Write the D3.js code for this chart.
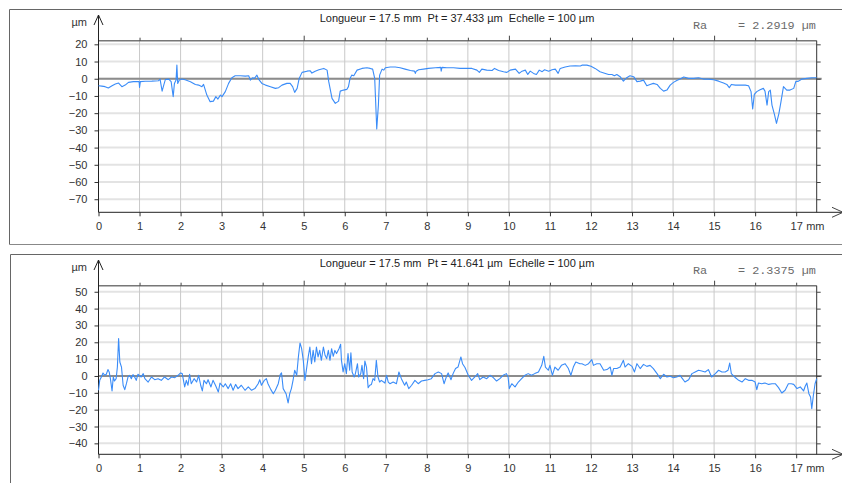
<!DOCTYPE html>
<html>
<head>
<meta charset="utf-8">
<script src="https://cdn.jsdelivr.net/npm/d3@7"></script>
<style>
  body { margin: 0; background: #fff; }
  svg { display: block; font-family: "Liberation Sans", Arial, sans-serif; }
</style>
</head>
<body>
<div id="chart"></div>
<script>
var width = 842, height = 483;

// mm positions along the profile
var xTicks = [0, 1, 2, 3, 4, 5, 6, 7, 8, 9, 10, 11, 12, 13, 14, 15, 16, 17];
var topTicks = [20, 10, 0, -10, -20, -30, -40, -50, -60, -70];
var bottomTicks = [50, 40, 30, 20, 10, 0, -10, -20, -30, -40];

var topTitle = "Longueur = 17.5 mm  Pt = 37.433 µm  Echelle = 100 µm";
var bottomTitle = "Longueur = 17.5 mm  Pt = 41.641 µm  Echelle = 100 µm";
var topRa = "2.2919", bottomRa = "2.3375";

// [mm, µm]
var topProfile = [
  [0.00,-4.1],[0.08,-4.3],[0.16,-4.6],[0.24,-5.4],[0.33,-4.1],[0.41,-3.1],[0.49,-2.5],[0.57,-4.6],
  [0.65,-3.7],[0.73,-2.1],[0.85,-1.7],[0.99,-1.7],[1.00,-5.0],[1.02,-1.7],[1.14,-1.5],[1.30,-1.4],
  [1.46,-1.2],[1.50,-0.2],[1.55,-7.2],[1.59,-3.7],[1.63,-0.4],[1.71,-0.2],[1.77,-1.7],[1.82,-10.4],
  [1.85,-2.7],[1.89,-0.8],[1.91,7.9],[1.93,-2.7],[1.97,-0.8],[2.03,-0.2],[2.11,-0.6],[2.24,-1.7],
  [2.36,-3.3],[2.44,-3.7],[2.52,-4.6],[2.56,-3.3],[2.64,-9.5],[2.72,-13.3],[2.80,-13.0],[2.86,-10.4],
  [2.91,-11.8],[2.97,-9.5],[3.01,-10.4],[3.09,-7.5],[3.17,-2.7],[3.25,0.6],[3.33,1.7],[3.46,1.7],
  [3.58,1.5],[3.66,1.7],[3.70,-0.8],[3.76,0.6],[3.80,0.2],[3.86,2.1],[3.90,-0.2],[3.98,-2.7],
  [4.07,-3.7],[4.19,-4.6],[4.31,-5.6],[4.39,-5.2],[4.47,-3.7],[4.59,-2.7],[4.67,-2.7],[4.73,-4.6],
  [4.78,-7.9],[4.84,-5.6],[4.89,0.2],[4.96,3.7],[5.08,4.4],[5.16,4.6],[5.20,3.3],[5.28,4.4],
  [5.37,5.2],[5.49,6.0],[5.57,5.0],[5.61,-1.7],[5.69,-11.4],[5.77,-14.3],[5.85,-13.0],[5.89,-7.2],
  [5.97,-6.6],[6.05,-6.2],[6.09,-4.6],[6.13,0.2],[6.17,2.1],[6.22,1.7],[6.30,5.0],[6.42,6.0],
  [6.54,6.4],[6.62,6.0],[6.68,5.6],[6.73,0.2],[6.75,-11.4],[6.78,-29.2],[6.82,-15.3],[6.85,2.1],
  [6.91,5.6],[6.95,5.0],[6.99,6.4],[7.11,6.8],[7.23,6.8],[7.35,6.4],[7.47,5.6],[7.60,4.8],
  [7.70,4.4],[7.72,3.1],[7.74,4.4],[7.80,5.2],[7.92,5.6],[8.04,6.0],[8.21,6.4],[8.34,6.6],
  [8.35,4.4],[8.37,6.6],[8.49,6.4],[8.65,6.4],[8.81,6.0],[8.98,6.0],[9.10,6.0],[9.22,5.0],
  [9.28,3.7],[9.34,5.6],[9.46,5.0],[9.59,4.8],[9.65,6.0],[9.75,4.8],[9.87,4.1],[9.95,3.7],
  [10.03,5.0],[10.16,5.6],[10.25,3.1],[10.32,4.4],[10.40,5.0],[10.46,2.5],[10.52,4.4],[10.60,3.1],
  [10.67,2.5],[10.74,5.0],[10.81,4.1],[10.87,5.2],[10.97,4.4],[11.05,5.2],[11.13,5.6],[11.20,3.1],
  [11.25,6.0],[11.37,6.8],[11.49,7.4],[11.62,7.5],[11.74,7.4],[11.78,7.9],[11.90,7.9],[12.00,7.2],
  [12.10,6.0],[12.22,4.1],[12.35,3.1],[12.43,2.5],[12.51,2.5],[12.57,1.7],[12.63,2.5],[12.71,1.2],
  [12.79,-1.4],[12.87,0.6],[12.95,1.7],[13.04,1.2],[13.12,-1.7],[13.20,-1.4],[13.28,-0.8],[13.36,-4.1],
  [13.44,-3.3],[13.52,-2.7],[13.61,-3.3],[13.69,-5.6],[13.77,-7.2],[13.85,-6.6],[13.93,-3.7],[14.01,-2.1],
  [14.09,-1.0],[14.17,-0.2],[14.26,1.0],[14.38,0.2],[14.50,0.2],[14.62,0.6],[14.74,-0.2],[14.86,-0.2],
  [14.99,-0.6],[15.11,-1.4],[15.23,-2.5],[15.31,-3.3],[15.37,-5.2],[15.42,-3.3],[15.52,-3.7],[15.64,-3.7],
  [15.76,-3.7],[15.84,-4.1],[15.90,-7.5],[15.94,-17.6],[15.98,-9.1],[16.04,-7.5],[16.12,-6.4],[16.20,-5.6],
  [16.24,-7.2],[16.29,-15.3],[16.33,-7.5],[16.37,-6.6],[16.41,-15.3],[16.47,-20.7],[16.52,-25.9],[16.58,-20.1],
  [16.63,-13.3],[16.69,-4.6],[16.77,-6.6],[16.85,-6.6],[16.94,-5.6],[16.99,-1.7],[17.06,-1.4],[17.14,-0.2],
  [17.26,0.2],[17.38,0.6],[17.50,0.6]
];

var bottomProfile = [
  [0.00,-8.5],[0.03,-2.6],[0.07,-0.6],[0.11,1.8],[0.15,0.4],[0.19,1.0],[0.23,3.8],[0.26,2.4],
  [0.29,-1.6],[0.33,-8.9],[0.36,-0.6],[0.39,-3.0],[0.43,-1.6],[0.46,5.3],[0.49,22.2],[0.52,8.3],
  [0.56,5.3],[0.60,-5.5],[0.64,-8.1],[0.68,-4.6],[0.72,-0.6],[0.76,0.4],[0.80,-1.6],[0.84,0.8],
  [0.88,-0.6],[0.92,-2.6],[0.96,1.0],[1.04,-0.6],[1.09,1.4],[1.13,-1.6],[1.21,-3.6],[1.29,-0.6],
  [1.37,-2.2],[1.45,-1.6],[1.53,-2.6],[1.61,-0.6],[1.70,-2.2],[1.78,-0.6],[1.86,-1.0],[1.94,0.4],
  [2.00,1.8],[2.04,1.4],[2.10,-6.5],[2.14,-2.6],[2.18,-5.5],[2.22,1.0],[2.26,-4.6],[2.33,-1.6],
  [2.39,-3.6],[2.44,0.4],[2.49,-5.5],[2.53,-8.9],[2.57,-2.6],[2.63,-4.6],[2.67,-2.2],[2.74,-6.5],
  [2.79,-2.6],[2.85,-5.5],[2.92,-9.5],[2.96,-4.2],[3.04,-6.5],[3.09,-4.6],[3.16,-7.5],[3.22,-4.6],
  [3.28,-8.5],[3.34,-5.0],[3.40,-7.5],[3.48,-5.5],[3.57,-8.5],[3.65,-6.5],[3.73,-8.5],[3.81,-7.5],
  [3.89,-4.6],[3.93,-2.2],[3.97,-5.5],[4.04,-2.6],[4.09,-1.6],[4.13,-4.6],[4.20,-8.1],[4.26,-10.5],
  [4.31,-8.5],[4.38,-4.6],[4.43,1.0],[4.46,1.8],[4.50,-7.5],[4.57,-10.5],[4.62,-16.0],[4.66,-10.5],
  [4.70,-7.5],[4.74,-2.6],[4.78,3.4],[4.83,0.4],[4.87,11.3],[4.91,19.6],[4.95,16.2],[4.99,9.3],
  [5.03,-2.6],[5.07,4.4],[5.11,11.3],[5.15,17.2],[5.19,7.3],[5.23,15.2],[5.27,8.3],[5.31,17.2],
  [5.35,11.3],[5.39,15.2],[5.43,9.3],[5.48,17.2],[5.52,12.3],[5.56,10.3],[5.60,15.2],[5.64,9.3],
  [5.68,16.2],[5.72,11.7],[5.76,15.2],[5.80,13.3],[5.86,16.2],[5.90,18.8],[5.92,9.3],[5.96,2.4],
  [6.00,7.3],[6.04,1.4],[6.08,13.3],[6.12,3.4],[6.15,13.7],[6.18,2.4],[6.23,-0.6],[6.26,1.4],
  [6.31,7.3],[6.34,-0.6],[6.39,1.4],[6.42,6.3],[6.46,-1.6],[6.49,8.9],[6.53,5.3],[6.57,-6.9],
  [6.61,-5.5],[6.65,-5.0],[6.69,-1.6],[6.73,-2.6],[6.77,9.3],[6.81,-0.6],[6.85,-3.6],[6.89,-2.6],
  [6.98,-4.2],[7.02,0.4],[7.06,-3.6],[7.10,-4.6],[7.18,-3.6],[7.26,-4.6],[7.32,2.4],[7.38,-1.6],
  [7.46,-5.5],[7.50,-3.6],[7.56,-7.5],[7.63,-5.5],[7.71,-2.6],[7.79,-4.6],[7.87,-3.0],[7.95,-2.6],
  [8.03,-2.2],[8.11,-1.6],[8.20,1.4],[8.28,2.4],[8.36,1.4],[8.42,-4.6],[8.48,-0.2],[8.52,1.8],
  [8.59,-2.2],[8.64,1.4],[8.70,4.4],[8.76,5.3],[8.83,11.3],[8.87,7.3],[8.93,5.0],[9.01,0.4],
  [9.09,-2.6],[9.17,-0.6],[9.24,1.4],[9.29,-2.2],[9.37,-0.6],[9.46,-1.6],[9.54,0.4],[9.62,-1.0],
  [9.70,-3.0],[9.78,-1.6],[9.86,0.4],[9.94,1.4],[9.98,-0.6],[10.01,-7.5],[10.07,-4.6],[10.15,-6.5],
  [10.23,-3.6],[10.31,-1.6],[10.39,0.4],[10.47,1.4],[10.55,0.4],[10.63,1.4],[10.72,2.4],[10.80,6.3],
  [10.85,11.7],[10.89,5.3],[10.96,3.4],[11.00,6.3],[11.06,0.4],[11.12,5.3],[11.20,3.4],[11.28,6.3],
  [11.37,7.3],[11.45,4.4],[11.51,0.4],[11.57,5.3],[11.63,8.3],[11.73,7.3],[11.78,7.3],[11.86,6.3],
  [11.94,7.3],[12.02,9.7],[12.06,6.3],[12.14,7.3],[12.22,7.3],[12.31,3.4],[12.39,3.8],[12.47,5.3],
  [12.51,0.4],[12.55,4.4],[12.63,4.4],[12.71,5.3],[12.79,9.3],[12.83,5.3],[12.91,7.3],[13.00,5.7],
  [13.06,2.4],[13.12,7.3],[13.20,4.4],[13.28,6.9],[13.36,5.7],[13.44,6.3],[13.52,4.4],[13.61,1.4],
  [13.69,-1.6],[13.77,1.0],[13.85,-0.6],[13.93,-0.2],[14.01,-1.0],[14.09,-0.6],[14.17,0.4],[14.21,-1.0],
  [14.29,-3.6],[14.38,-2.2],[14.46,1.4],[14.54,2.4],[14.62,3.4],[14.70,3.0],[14.78,2.4],[14.86,3.8],
  [14.94,-0.6],[15.03,1.4],[15.11,3.4],[15.19,2.4],[15.27,2.4],[15.34,3.4],[15.38,7.7],[15.42,1.4],
  [15.50,-0.6],[15.60,-2.6],[15.68,-3.6],[15.76,-1.6],[15.84,-2.6],[15.92,-2.6],[16.00,-3.6],[16.04,-8.1],
  [16.08,-4.2],[16.16,-4.6],[16.24,-4.2],[16.33,-5.0],[16.41,-4.6],[16.49,-4.6],[16.57,-6.9],[16.65,-10.1],
  [16.73,-8.5],[16.81,-4.6],[16.88,-4.6],[16.94,-5.0],[17.02,-7.5],[17.10,-6.5],[17.18,-8.9],[17.22,-6.1],
  [17.26,-4.2],[17.31,-10.5],[17.35,-12.5],[17.38,-19.4],[17.42,-11.3],[17.46,-4.6],[17.50,-1.6]
];

var svg = d3.select("#chart")
  .append("svg")
    .attr("width", width)
    .attr("height", height);

var x = d3.scaleLinear().domain([0, 17.5]).range([98.5, 816.7]);

function drawPanel(p) {
  var g = svg.append("g");
  var y = d3.scaleLinear().domain(p.domain).range([p.bottom, p.top]);
  var x0 = x(0), x1 = x(17.5);

  // frame around the panel
  g.append("path")
    .attr("d", "M" + p.boxX + "," + p.boxBottom + "V" + p.boxY + "H" + width)
    .attr("fill", "none").attr("stroke", "#666").attr("stroke-width", 1);
  if (p.closeBottom) {
    g.append("line").attr("x1", p.boxX).attr("x2", width)
      .attr("y1", p.boxBottom).attr("y2", p.boxBottom)
      .attr("stroke", "#888");
  }

  // horizontal grid
  g.selectAll(".hgrid").data(p.ticks).enter().append("line")
    .attr("x1", x0).attr("x2", x1)
    .attr("y1", function(d){ return y(d); }).attr("y2", function(d){ return y(d); })
    .attr("stroke", "#e3e3e3").attr("stroke-width", 2);

  // vertical grid
  g.selectAll(".vgrid").data(xTicks.slice(1)).enter().append("line")
    .attr("x1", function(d){ return x(d); }).attr("x2", function(d){ return x(d); })
    .attr("y1", p.top).attr("y2", p.bottom)
    .attr("stroke", "#c9c9c9").attr("stroke-width", 1);

  // zero line
  g.append("line").attr("x1", x0).attr("x2", x1 + 5)
    .attr("y1", y(0)).attr("y2", y(0))
    .attr("stroke", "#8c8c8c").attr("stroke-width", 2);

  // top border + ticks
  g.append("line").attr("x1", x0).attr("x2", x1)
    .attr("y1", p.top).attr("y2", p.top)
    .attr("stroke", "#777").attr("stroke-width", 1.5);
  var topAxis = g.append("g")
    .attr("transform", "translate(0," + p.top + ")")
    .call(d3.axisTop(x).tickValues(xTicks.slice(1)).tickSize(3).tickFormat(""));
  topAxis.select(".domain").remove();
  topAxis.selectAll(".tick line").attr("stroke", "#444")
    .attr("y2", function(d){ return d % 5 == 0 ? -5 : -3; });

  // right border + ticks
  g.append("line").attr("x1", x1).attr("x2", x1)
    .attr("y1", p.top).attr("y2", p.bottom)
    .attr("stroke", "#333").attr("stroke-width", 1);
  var rightAxis = g.append("g")
    .attr("transform", "translate(" + x1 + ",0)")
    .call(d3.axisRight(y).tickValues(p.ticks).tickSize(4).tickFormat(""));
  rightAxis.select(".domain").remove();
  rightAxis.selectAll(".tick line").attr("stroke", "#444");

  // left axis
  var leftAxis = g.append("g")
    .attr("transform", "translate(" + x0 + ",0)")
    .call(d3.axisLeft(y).tickValues(p.ticks).tickSize(4).tickPadding(7));
  leftAxis.select(".domain").remove();
  leftAxis.selectAll(".tick line").attr("stroke", "#333");
  leftAxis.selectAll("text").attr("font-size", 11).attr("fill", "#333")
    .attr("font-family", "Liberation Sans, Arial, sans-serif");
  g.append("line").attr("x1", x0).attr("x2", x0)
    .attr("y1", p.bottom).attr("y2", p.arrowY)
    .attr("stroke", "#222");
  g.append("path")
    .attr("d", "M" + (x0 - 4.5) + "," + (p.arrowY + 10) + "L" + x0 + "," + p.arrowY + "L" + (x0 + 4.5) + "," + (p.arrowY + 10))
    .attr("fill", "none").attr("stroke", "#222");
  g.append("text").attr("x", 87).attr("y", p.arrowY + 10.5)
    .attr("text-anchor", "end").attr("font-size", 11).attr("fill", "#333")
    .text("µm");

  // bottom axis
  var bottomAxis = g.append("g")
    .attr("transform", "translate(0," + p.bottom + ")")
    .call(d3.axisBottom(x).tickValues(xTicks).tickSize(4).tickPadding(6));
  bottomAxis.select(".domain").remove();
  bottomAxis.selectAll(".tick line").attr("stroke", "#333");
  bottomAxis.selectAll("text").attr("font-size", 11).attr("fill", "#333")
    .attr("font-family", "Liberation Sans, Arial, sans-serif");
  g.append("line").attr("x1", x0).attr("x2", width + 2)
    .attr("y1", p.bottom).attr("y2", p.bottom)
    .attr("stroke", "#222");
  g.append("path")
    .attr("d", "M" + (width - 10) + "," + (p.bottom - 5) + "L" + (width + 1) + "," + p.bottom + "L" + (width - 10) + "," + (p.bottom + 5))
    .attr("fill", "none").attr("stroke", "#444");
  g.append("text").attr("x", x(17) + 10).attr("y", p.bottom + 18)
    .attr("font-size", 11).attr("fill", "#333")
    .text("mm");

  // profile
  var line = d3.line()
    .x(function(d){ return x(d[0]); })
    .y(function(d){ return y(d[1]); });
  g.append("path").datum(p.profile)
    .attr("d", line)
    .attr("fill", "none")
    .attr("stroke", "#3a8cf8")
    .attr("stroke-width", 1.1)
    .attr("stroke-linejoin", "round");

  // header texts
  g.append("text").attr("x", 457).attr("y", p.titleY)
    .attr("text-anchor", "middle").attr("font-size", 11).attr("fill", "#222")
    .style("white-space", "pre")
    .text(p.title);
  g.append("text").attr("x", 693).attr("y", p.raY)
    .attr("font-family", "Liberation Mono, Courier New, monospace")
    .attr("font-size", 11.8).attr("fill", "#6a6a6a")
    .text("Ra");
  g.append("text").attr("x", 738).attr("y", p.raY)
    .attr("font-family", "Liberation Mono, Courier New, monospace")
    .attr("font-size", 11.8).attr("fill", "#6a6a6a")
    .text("= " + p.ra + " µm");
}

drawPanel({
  boxX: 9.5, boxY: 9.5, boxBottom: 244.5, closeBottom: true,
  top: 40.7, bottom: 212.3, domain: [-77.6, 22.1],
  ticks: topTicks, profile: topProfile,
  arrowY: 15, titleY: 22, raY: 29,
  title: topTitle, ra: topRa
});

drawPanel({
  boxX: 10.5, boxY: 254.5, boxBottom: height + 2, closeBottom: false,
  top: 285.7, bottom: 454.3, domain: [-46.5, 53.6],
  ticks: bottomTicks, profile: bottomProfile,
  arrowY: 260, titleY: 267, raY: 274,
  title: bottomTitle, ra: bottomRa
});
</script>
</body>
</html>
